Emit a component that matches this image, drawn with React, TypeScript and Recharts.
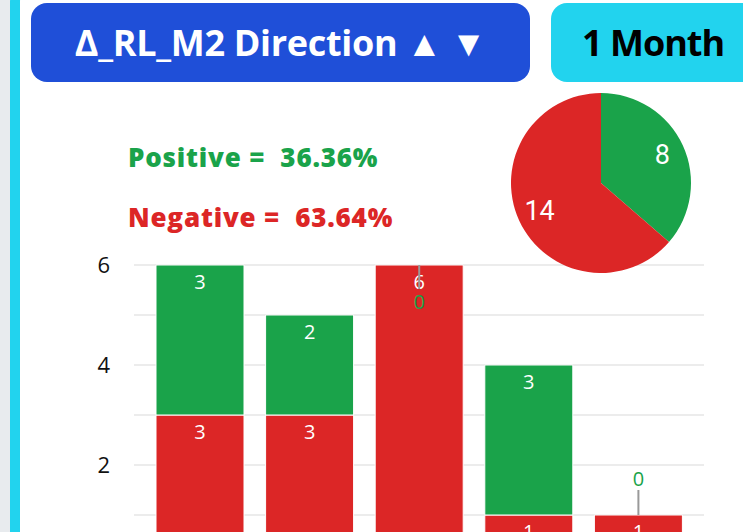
import React from 'react';
import { BarChart, Bar, XAxis, YAxis, CartesianGrid, LabelList, PieChart, Pie, Cell } from 'recharts';

const categories = ['1', '2', '3', '4', '5'];
const positiveValues = [3, 2, 0, 3, 0];
const negativeValues = [3, 3, 6, 1, 1];
const pieNames = ['Positive', 'Negative'];
const pieValues = [8, 14];
const yTicks = [0, 1, 2, 3, 4, 5, 6];
const titleText = 'Δ_RL_M2 Direction ▲ ▼';
const periodText = '1 Month';

const GREEN = '#1aa34a';
const RED = '#dc2626';
const BLUE = '#1f4fd8';
const CYAN = '#22d3ee';

const PLOT_TOP = 265;

const barData = categories.map((c, i) => ({ name: c, positive: positiveValues[i], negative: negativeValues[i] }));
const pieData = pieNames.map((n, i) => ({ name: n, value: pieValues[i] }));
const pieTotal = pieValues.reduce((a, b) => a + b, 0);
const pct = (v: number) => ((v / pieTotal) * 100).toFixed(2) + '%';

const LABEL_FONT = { fontSize: 20, fontFamily: 'Open Sans' };

// negative bar label: draws its own value, plus the leader-lined label of a zero positive segment on top
const negLabel = (props: any) => {
  const { x, y, width, value } = props;
  const [negStr, posStr] = String(value).split('|');
  const neg = Number(negStr);
  const pos = Number(posStr);
  const cx = x + width / 2;
  const items: any[] = [
    <text key="n" x={cx} y={y + 16} fill="#fff" {...LABEL_FONT} textAnchor="middle" dominantBaseline="central">{neg}</text>,
  ];
  if (pos === 0) {
    const up = y - 40 >= PLOT_TOP;
    if (up) {
      items.push(<line key="l" x1={cx} x2={cx} y1={y} y2={y - 25} stroke="#999" strokeWidth={2} />);
      items.push(<text key="z" x={cx} y={y - 37} fill={GREEN} {...LABEL_FONT} textAnchor="middle" dominantBaseline="central">{pos}</text>);
    } else {
      items.push(<line key="l" x1={cx} x2={cx} y1={y} y2={y + 24} stroke="#999" strokeWidth={2} />);
      items.push(<text key="z" x={cx} y={y + 36} fill={GREEN} {...LABEL_FONT} textAnchor="middle" dominantBaseline="central">{pos}</text>);
    }
  }
  return <g>{items}</g>;
};

const posLabel = (props: any) => {
  const { x, y, width, value } = props;
  if (!value) return null;
  return (
    <text x={x + width / 2} y={y + 16} fill="#fff" {...LABEL_FONT} textAnchor="middle" dominantBaseline="central">{value}</text>
  );
};

const RAD = Math.PI / 180;
const pieLabel = (props: any) => {
  const { cx, cy, midAngle, outerRadius, value } = props;
  const r = outerRadius * 0.75;
  const x = cx + r * Math.cos(-midAngle * RAD);
  const y = cy + r * Math.sin(-midAngle * RAD);
  return (
    <text x={x} y={y} fill="#fff" fontSize={27} fontFamily="Roboto" textAnchor="middle" dominantBaseline="central">{value}</text>
  );
};

export default function App() {
  return (
    <div style={{ position: 'absolute', left: 0, top: 0, width: 743, height: 532, overflow: 'hidden', background: '#e8ebee' }}>
      <div style={{ position: 'absolute', left: 10, top: -14, width: 800, height: 700, background: '#fff', borderLeft: `10px solid ${CYAN}`, borderTopLeftRadius: 16, boxSizing: 'border-box' }} />
      <div style={{ position: 'absolute', left: 31, top: 3, width: 499, height: 79, background: BLUE, borderRadius: 16, display: 'flex', alignItems: 'center', justifyContent: 'center', color: '#fff', fontFamily: 'Open Sans', fontWeight: 700, fontSize: 36, letterSpacing: -0.3 }}>
        {titleText}
      </div>
      <div style={{ position: 'absolute', left: 551, top: 3, width: 240, height: 79, background: CYAN, borderRadius: 16, display: 'flex', alignItems: 'center', color: '#000', fontFamily: 'Open Sans', fontWeight: 700, fontSize: 36, letterSpacing: -1 }}>
        <span style={{ marginLeft: 31 }}>{periodText}</span>
      </div>
      <div style={{ position: 'absolute', left: 128, top: 139, color: GREEN, fontFamily: 'Open Sans', fontWeight: 800, fontSize: 26, letterSpacing: 0.8, whiteSpace: 'pre' }}>
        {`${pieNames[0]} =  ${pct(pieValues[0])}`}
      </div>
      <div style={{ position: 'absolute', left: 128, top: 199, color: RED, fontFamily: 'Open Sans', fontWeight: 800, fontSize: 26, letterSpacing: 0.8, whiteSpace: 'pre' }}>
        {`${pieNames[1]} =  ${pct(pieValues[1])}`}
      </div>
      <div style={{ position: 'absolute', left: 0, top: 0 }}>
        <BarChart width={743} height={600} data={barData} margin={{ top: PLOT_TOP, right: 39, bottom: 35, left: 74 }} barSize={88}>
          <CartesianGrid vertical={false} stroke="#ececec" strokeWidth={2} />
          <XAxis dataKey="name" hide padding={{ left: 11, right: 11 }} />
          <YAxis width={60} domain={[0, 6]} ticks={yTicks} interval={0} axisLine={false} tickLine={false} tickSize={0} tickMargin={24}
            tickFormatter={(v: number) => (v % 2 === 0 ? String(v) : '')}
            tick={{ fill: '#111', fontSize: 22, fontFamily: 'Open Sans' }} />
          <Bar dataKey="negative" stackId="a" fill={RED} stroke="#fff" strokeWidth={1} isAnimationActive={false}>
            <LabelList dataKey={(d: any) => `${d.negative}|${d.positive}`} content={negLabel} />
          </Bar>
          <Bar dataKey="positive" stackId="a" fill={GREEN} stroke="#fff" strokeWidth={1} isAnimationActive={false}>
            <LabelList dataKey="positive" content={posLabel} />
          </Bar>
        </BarChart>
      </div>
      <div style={{ position: 'absolute', left: 501, top: 83 }}>
        <PieChart width={200} height={200} margin={{ top: 0, right: 0, bottom: 0, left: 0 }}>
          <Pie data={pieData} dataKey="value" cx={100} cy={100} outerRadius={90} startAngle={90} endAngle={-270} stroke="none" labelLine={false} label={pieLabel} isAnimationActive={false}>
            <Cell fill={GREEN} />
            <Cell fill={RED} />
          </Pie>
        </PieChart>
      </div>
    </div>
  );
}
